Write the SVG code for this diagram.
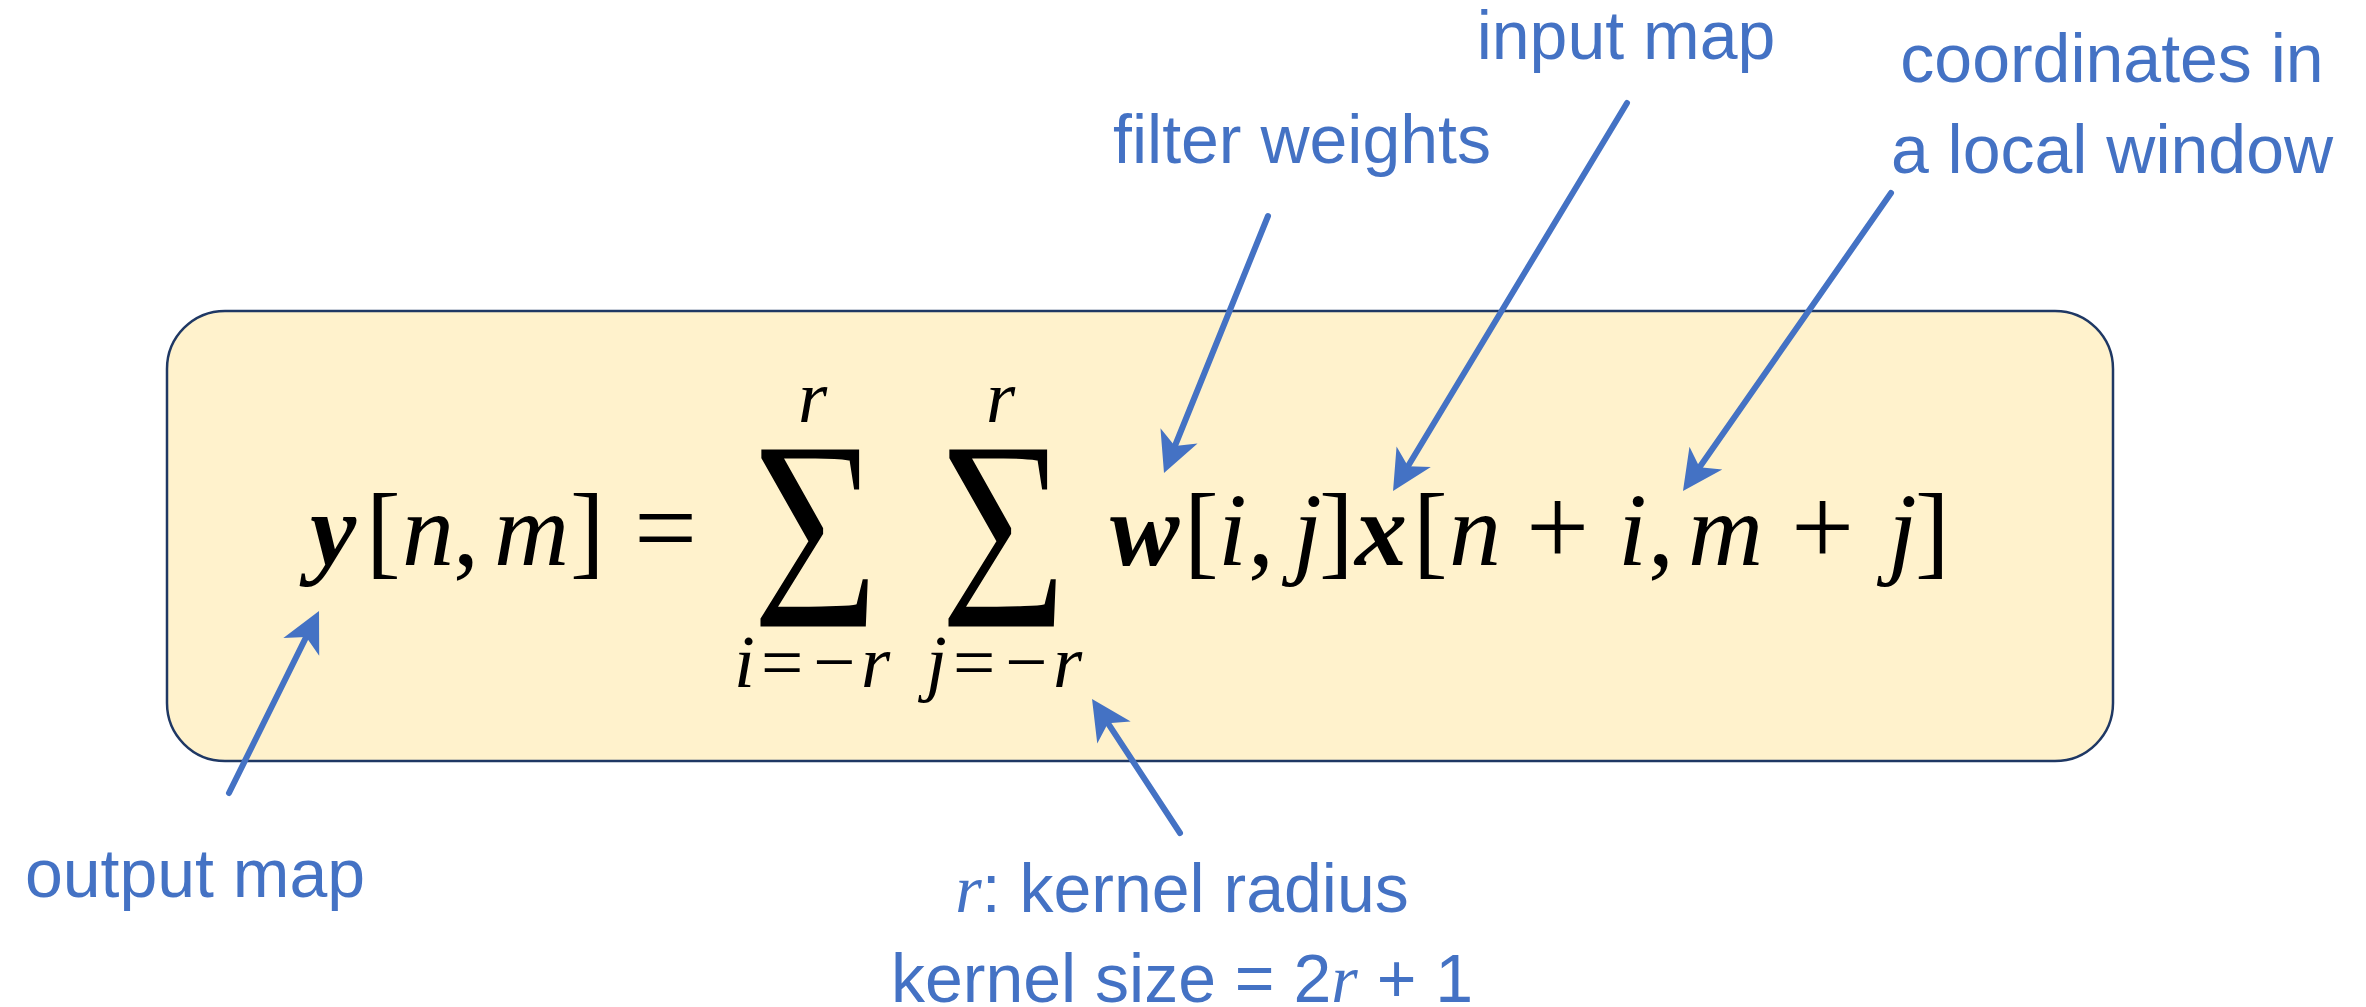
<svg xmlns="http://www.w3.org/2000/svg" width="2366" height="1007" viewBox="0 0 2366 1007">
<defs>
<style>
.m{font-family:"Liberation Serif","Times New Roman",serif;font-style:italic;font-size:104px;fill:#000}
.b{font-weight:bold}
.u{font-style:normal;font-weight:normal}
.s{font-family:"Liberation Serif","Times New Roman",serif;font-style:italic;font-size:75px;fill:#000}
.sig{font-family:"Liberation Serif","Times New Roman",serif;font-size:275px;fill:#000;stroke:#FFF2CC;stroke-width:3;paint-order:fill}
.lab{font-family:"Liberation Sans",Arial,sans-serif;font-size:68px;fill:#4472C4;text-anchor:middle}
.li{font-family:"Liberation Serif","Times New Roman",serif;font-style:italic}
.arr{stroke:#4472C4;stroke-width:6;fill:none;stroke-linecap:round;marker-end:url(#ah)}
</style>
<marker id="ah" markerUnits="userSpaceOnUse" viewBox="-14 -22 44 44" refX="0" refY="0" markerWidth="44" markerHeight="44" orient="auto">
<path d="M28,0 L-12,-20 L-1,0 L-12,20 Z" fill="#4472C4"/>
</marker>
</defs>
<rect width="2366" height="1007" fill="#fff"/>

<g id="formula-box">
<rect x="167" y="311" width="1946" height="450" rx="58" ry="58" fill="#FFF2CC" stroke="#1F3864" stroke-width="2.5"/>
<text class="m" y="565"><tspan class="b" x="310">y</tspan><tspan class="u" x="366">[</tspan><tspan x="402">n</tspan><tspan class="u" x="453">,</tspan><tspan x="494">m</tspan><tspan class="u" x="570">]</tspan><tspan class="u" x="634" font-size="112">=</tspan></text>
<text class="sig" transform="translate(753,628) scale(0.81,1)" x="-3" y="0">Σ</text>
<text class="s" x="798" y="422">r</text>
<text class="s" y="687"><tspan x="734">i</tspan><tspan class="u" x="761">=</tspan><tspan class="u" x="813">−</tspan><tspan x="861">r</tspan></text>
<text class="sig" transform="translate(941,628) scale(0.81,1)" x="-3" y="0">Σ</text>
<text class="s" x="986" y="422">r</text>
<text class="s" y="687"><tspan x="926">j</tspan><tspan class="u" x="953">=</tspan><tspan class="u" x="1005">−</tspan><tspan x="1053">r</tspan></text>
<text class="m" y="565"><tspan class="b" x="1110">w</tspan><tspan class="u" x="1184">[</tspan><tspan x="1218">i</tspan><tspan class="u" x="1248">,</tspan><tspan x="1293">j</tspan><tspan class="u" x="1319">]</tspan><tspan class="b" x="1355">x</tspan><tspan class="u" x="1413">[</tspan><tspan x="1449">n</tspan><tspan class="u" x="1526" font-size="112">+</tspan><tspan x="1618">i</tspan><tspan class="u" x="1648">,</tspan><tspan x="1688">m</tspan><tspan class="u" x="1791" font-size="112">+</tspan><tspan x="1888">j</tspan><tspan class="u" x="1915">]</tspan></text>
</g>

<g id="label-filter-weights"><text class="lab" x="1302" y="163">filter weights</text></g>
<g id="label-input-map"><text class="lab" x="1626" y="59">input map</text></g>
<g id="label-coordinates"><text class="lab" x="2112" y="82">coordinates in</text><text class="lab" x="2112" y="173">a local window</text></g>
<g id="label-output-map"><text class="lab" x="195" y="897">output map</text></g>
<g id="label-kernel"><text class="lab" x="1182" y="912"><tspan class="li">r</tspan>: kernel radius</text><text class="lab" x="1182" y="1002">kernel size = 2<tspan class="li">r</tspan> + 1</text></g>

<g id="connectors">
<line class="arr" x1="229" y1="793" x2="306.6" y2="636.1"/>
<line class="arr" x1="1268" y1="216" x2="1174.5" y2="447"/>
<line class="arr" x1="1627" y1="103" x2="1407.5" y2="467"/>
<line class="arr" x1="1891" y1="193" x2="1699" y2="468"/>
<line class="arr" x1="1180" y1="833" x2="1107.4" y2="722.4"/>
</g>
</svg>
